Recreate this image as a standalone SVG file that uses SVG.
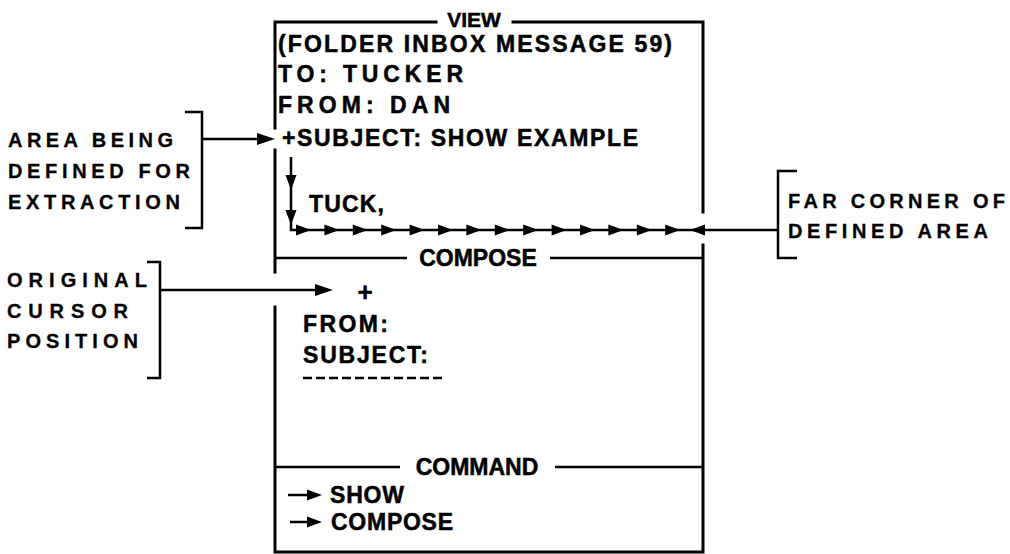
<svg xmlns="http://www.w3.org/2000/svg" xmlns:xlink="http://www.w3.org/1999/xlink" width="1010" height="554" viewBox="0 0 1010 554">
<style>
  .box { fill: none; stroke: #000; stroke-width: 3; stroke-linecap: square; }
  .ln { fill: none; stroke: #000; stroke-width: 2.5; }
  .t { font-family: "Liberation Sans", Arial, sans-serif; font-weight: bold; font-size: 23px; fill: #000; stroke: #000; stroke-width: 0.5; }
  .lbl { font-family: "Liberation Sans", Arial, sans-serif; font-weight: bold; font-size: 20px; fill: #000; stroke: #000; stroke-width: 0.3; }
  .mid { text-anchor: middle; }
</style>
<defs>
  <path id="ah" d="M0,0 L-18,-6 L-18,6 Z" fill="#000"/>
  <path id="ahs" d="M0,0 L-15,-5.5 L-15,5.5 Z" fill="#000"/>
</defs>
<rect width="1010" height="554" fill="#fff"/>

<g id="view-window">
  <path class="box" d="M436,22 H275 V128 M275,150 V272 M275,307 V552 H703 V245 M703,212 V22 H513"/>
  <text class="t mid" x="474" y="27" style="font-size:21px">VIEW</text>
  <text class="t" x="278" y="52" textLength="394" lengthAdjust="spacing">(FOLDER INBOX MESSAGE 59)</text>
  <text class="t" x="278" y="82" textLength="185" lengthAdjust="spacing">TO:  TUCKER</text>
  <text class="t" x="278" y="113" textLength="172" lengthAdjust="spacing">FROM:  DAN</text>
  <text class="t" x="282" y="146" textLength="356" lengthAdjust="spacing">+SUBJECT:  SHOW EXAMPLE</text>
  <text class="t" x="309" y="212" textLength="75" lengthAdjust="spacing">TUCK,</text>
</g>

<g id="compose-window">
  <path class="ln" d="M276,258 H407 M550,258 H703"/>
  <text class="t mid" x="478" y="266">COMPOSE</text>
  <text class="t mid" x="365" y="301" style="font-size:26px">+</text>
  <text class="t" x="303" y="332" textLength="85" lengthAdjust="spacing">FROM:</text>
  <text class="t" x="303" y="363" textLength="125" lengthAdjust="spacing">SUBJECT:</text>
  <path class="ln" d="M303,378 H445" stroke-dasharray="9,4"/>
</g>

<g id="command-window">
  <path class="ln" d="M276,467 H400 M555,467 H703"/>
  <text class="t mid" x="477" y="475">COMMAND</text>
  <path class="ln" d="M288,495 H310"/>
  <use xlink:href="#ahs" x="322" y="495"/>
  <text class="t" x="330" y="503" textLength="74" lengthAdjust="spacing">SHOW</text>
  <path class="ln" d="M290,522 H310"/>
  <use xlink:href="#ahs" x="322" y="522"/>
  <text class="t" x="331" y="530" textLength="122" lengthAdjust="spacing">COMPOSE</text>
</g>

<g id="label-area">
  <path class="ln" d="M185,112 H202 V228 H185"/>
  <text class="lbl" x="8" y="147" textLength="165" lengthAdjust="spacing">AREA BEING</text>
  <text class="lbl" x="8" y="178" textLength="182" lengthAdjust="spacing">DEFINED FOR</text>
  <text class="lbl" x="8" y="209" textLength="172" lengthAdjust="spacing">EXTRACTION</text>
</g>

<g id="label-original">
  <path class="ln" d="M147,262 H160 V378 H147"/>
  <text class="lbl" x="7" y="287" textLength="140" lengthAdjust="spacing">ORIGINAL</text>
  <text class="lbl" x="7" y="318" textLength="121" lengthAdjust="spacing">CURSOR</text>
  <text class="lbl" x="7" y="348" textLength="131" lengthAdjust="spacing">POSITION</text>
</g>

<g id="label-far">
  <path class="ln" d="M797,171 H778 V258 H797"/>
  <text class="lbl" x="788" y="208" textLength="217" lengthAdjust="spacing">FAR CORNER OF</text>
  <text class="lbl" x="788" y="238" textLength="200" lengthAdjust="spacing">DEFINED AREA</text>
</g>

<g id="connectors">
  <path class="ln" d="M202,139 H260"/>
  <use xlink:href="#ah" x="275" y="139"/>
  <path class="ln" d="M160,290 H318"/>
  <use xlink:href="#ah" x="333" y="290"/>
  <path class="ln" d="M291,157 V230 H778"/>
  <use xlink:href="#ahs" transform="translate(291,190) rotate(90)"/>
  <use xlink:href="#ahs" transform="translate(291,225) rotate(90)"/>
  <use xlink:href="#ahs" x="311" y="230"/>
  <use xlink:href="#ahs" x="339.4" y="230"/>
  <use xlink:href="#ahs" x="367.8" y="230"/>
  <use xlink:href="#ahs" x="396.2" y="230"/>
  <use xlink:href="#ahs" x="424.6" y="230"/>
  <use xlink:href="#ahs" x="453" y="230"/>
  <use xlink:href="#ahs" x="481.4" y="230"/>
  <use xlink:href="#ahs" x="509.8" y="230"/>
  <use xlink:href="#ahs" x="538.2" y="230"/>
  <use xlink:href="#ahs" x="566.6" y="230"/>
  <use xlink:href="#ahs" x="595" y="230"/>
  <use xlink:href="#ahs" x="623.4" y="230"/>
  <use xlink:href="#ahs" x="651.8" y="230"/>
  <use xlink:href="#ahs" x="680.2" y="230"/>
  <use xlink:href="#ahs" transform="translate(690,230) rotate(180)"/>
</g>
</svg>
